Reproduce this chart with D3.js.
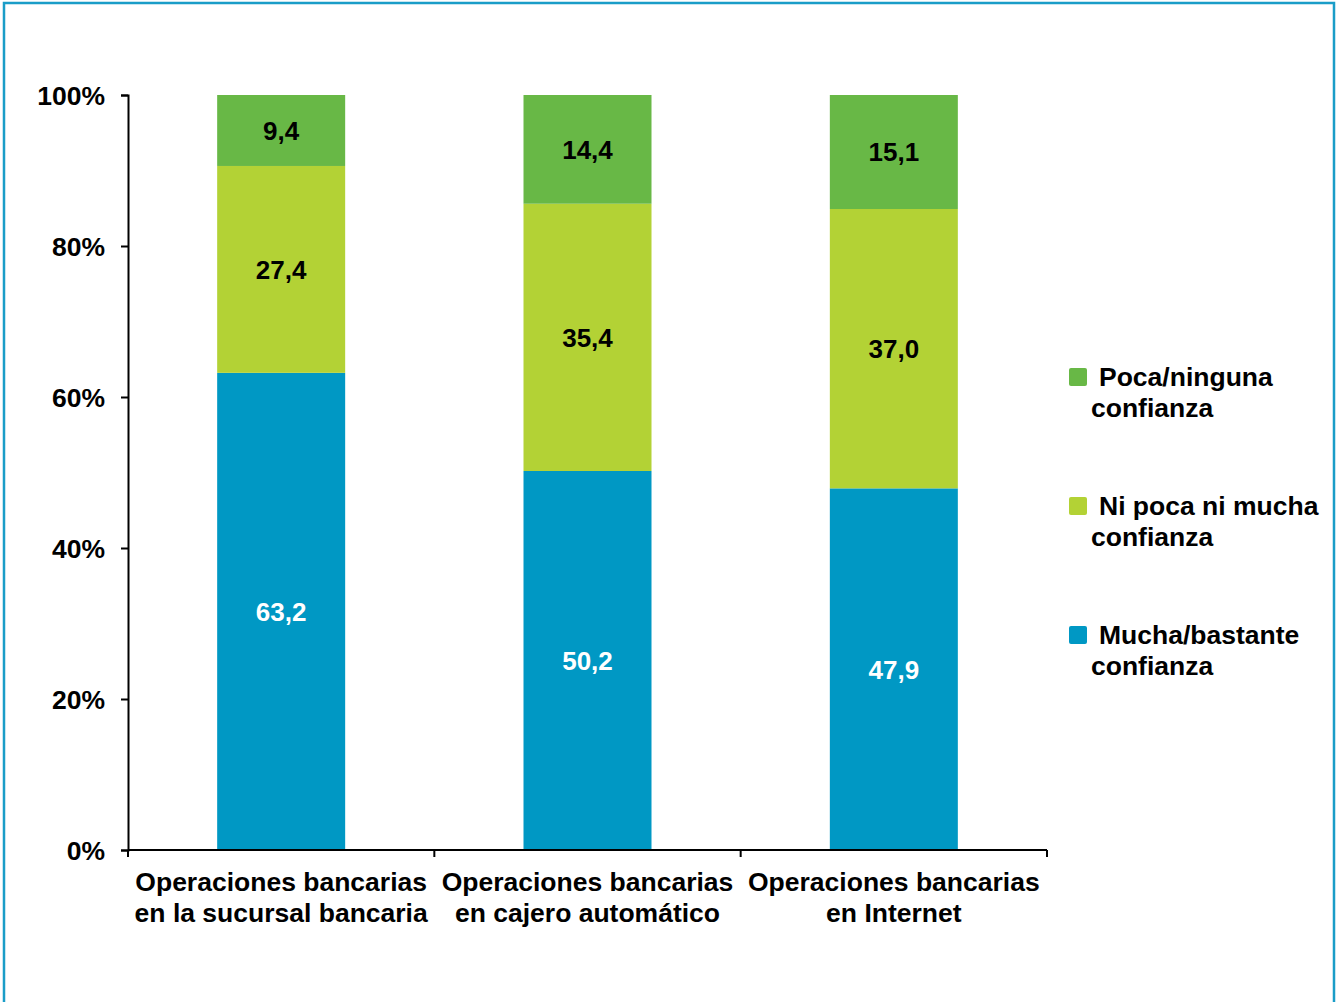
<!DOCTYPE html>
<html><head><meta charset="utf-8">
<script src="https://cdn.jsdelivr.net/npm/d3@7"></script>
<style>
html,body{margin:0;padding:0;background:#fff;}
svg{display:block;font-family:"Liberation Sans",Arial,sans-serif;font-weight:bold;}
</style></head><body>
<svg id="c" width="1336" height="1002"></svg>
<script>
const categories = [
  ["Operaciones bancarias", "en la sucursal bancaria"],
  ["Operaciones bancarias", "en cajero automático"],
  ["Operaciones bancarias", "en Internet"]
];
const seriesNames = ["Mucha/bastante confianza", "Ni poca ni mucha confianza", "Poca/ninguna confianza"];
const mucha = [63.2, 50.2, 47.9];
const ni = [27.4, 35.4, 37.0];
const poca = [9.4, 14.4, 15.1];
const yTicks = [0, 20, 40, 60, 80, 100];
const colors = ["#0098c4", "#b3d235", "#68b846"];
const labelColors = ["#ffffff", "#000000", "#000000"];
const legendLines = [["Poca/ninguna", "confianza"], ["Ni poca ni mucha", "confianza"], ["Mucha/bastante", "confianza"]];

const FS = 26.5;
const svg = d3.select("#c");
// frame
svg.append("path").attr("d", "M4,1010 L4,3 L1334,3 L1334,1010")
  .attr("fill", "none").attr("stroke", "#1a9dc8").attr("stroke-width", 2.5);

const x = d3.scaleBand().domain(d3.range(categories.length)).range([128, 1047]).paddingInner(0).paddingOuter(0);
const y = d3.scaleLinear().domain([0, 100]).range([850, 95]);
const barW = 128;

const data = categories.map((c, i) => ({i, vals: [mucha[i], ni[i], poca[i]]}));
const stack = d3.stack().keys([0, 1, 2]).value((d, k) => d.vals[k]);
const stacked = stack(data);

stacked.forEach((layer, k) => {
  const g = svg.append("g");
  g.selectAll("rect").data(layer).enter().append("rect")
    .attr("x", d => x(d.data.i) + x.bandwidth() / 2 - barW / 2)
    .attr("width", barW)
    .attr("y", d => y(d[1]))
    .attr("height", d => y(d[0]) - y(d[1]))
    .attr("fill", colors[k]);
  g.selectAll("text").data(layer).enter().append("text")
    .attr("x", d => x(d.data.i) + x.bandwidth() / 2)
    .attr("y", d => (y(d[0]) + y(d[1])) / 2)
    .attr("dy", "0.36em")
    .attr("text-anchor", "middle")
    .attr("font-size", 26)
    .attr("fill", labelColors[k])
    .text(d => d.data.vals[k].toFixed(1).replace(".", ","));
});

// y axis
const yAxis = d3.axisLeft(y).tickValues(yTicks).tickFormat(d => d + "%").tickSize(7).tickPadding(16);
const ya = svg.append("g").attr("transform", "translate(128,0)").call(yAxis);
ya.select(".domain").attr("stroke", "#000").attr("stroke-width", 2);
ya.selectAll(".tick line").attr("stroke", "#000").attr("stroke-width", 2);
ya.selectAll(".tick text").attr("font-size", FS).attr("font-family", "Liberation Sans, Arial, sans-serif")
  .attr("font-weight", "bold").attr("fill", "#000").attr("dy", "0.36em");

// x axis line with boundary ticks
const xa = svg.append("g");
xa.append("line").attr("x1", 128).attr("x2", 1047).attr("y1", y(0)).attr("y2", y(0)).attr("stroke", "#000").attr("stroke-width", 2);
const bounds = d3.range(categories.length + 1).map(i => i < categories.length ? x(i) : x(i - 1) + x.bandwidth());
xa.selectAll("line.t").data(bounds).enter().append("line").attr("class", "t")
  .attr("x1", d => d).attr("x2", d => d).attr("y1", y(0)).attr("y2", y(0) + 7)
  .attr("stroke", "#000").attr("stroke-width", 2);

// category labels
categories.forEach((c, i) => {
  const t = svg.append("text").attr("text-anchor", "middle").attr("font-size", FS).attr("fill", "#000");
  c.forEach((line, j) => {
    t.append("tspan").attr("x", x(i) + x.bandwidth() / 2).attr("y", 891 + j * 31).text(line);
  });
});

// legend
const lg = svg.append("g");
legendLines.forEach((lines, r) => {
  const cy = 377 + r * 129;
  lg.append("rect").attr("x", 1069).attr("y", cy - 9).attr("width", 18).attr("height", 18).attr("rx", 2)
    .attr("fill", colors[2 - r]);
  lg.append("text").attr("x", 1099).attr("y", cy + 9).attr("font-size", FS).attr("fill", "#000").text(lines[0]);
  lg.append("text").attr("x", 1091).attr("y", cy + 40).attr("font-size", FS).attr("fill", "#000").text(lines[1]);
});
</script>
</body></html>
